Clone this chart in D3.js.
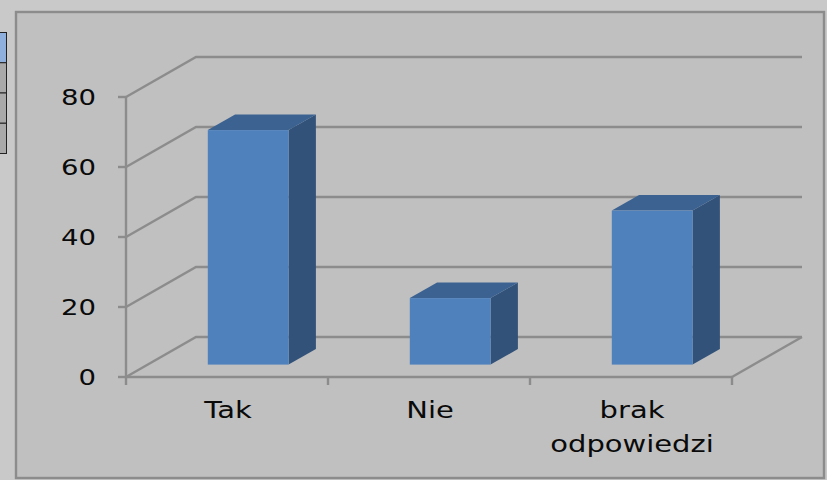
<!DOCTYPE html>
<html><head><meta charset="utf-8">
<script src="https://cdn.jsdelivr.net/npm/d3@7/dist/d3.min.js"></script>
<style>html,body{margin:0;padding:0;background:#c9c9c9;overflow:hidden}svg{display:block}text{font-family:"DejaVu Sans";fill:#0a0a0a}</style>
</head><body><svg id="c" width="827" height="480"></svg>
<script>
const categories = ["Tak", "Nie", "brak odpowiedzi"];
const labelLines = [["Tak"], ["Nie"], ["brak", "odpowiedzi"]];
const values = [67, 19, 44];
const yTicks = [0, 20, 40, 60, 80];
const legendRowFills = ["#8fb0dc", "#a9a9a9", "#a9a9a9", "#a9a9a9"];

const svg = d3.select("#c");
const depth = {dx: 70, dy: -40};
const barDepth = {f0: 0.31, f1: 0.70};
const y = d3.scaleLinear().domain([0, 80]).range([377, 97]);
const x = d3.scaleBand().domain(categories).range([126, 732]);
const barW = x.bandwidth() * 0.4;
const grey = "#8c8c8c";

// frame
svg.append("rect").attr("x", 16).attr("y", 12).attr("width", 808).attr("height", 466)
  .attr("fill", "#c0c0c0").attr("stroke", grey).attr("stroke-width", 2.4);

// stray table fragment at the left
const rows = d3.scaleBand().domain(d3.range(legendRowFills.length)).range([32.5, 153.5]);
svg.selectAll("rect.row").data(legendRowFills).join("rect").attr("class", "row")
  .attr("x", -2).attr("y", (d, i) => rows(i)).attr("width", 8.5).attr("height", rows.bandwidth())
  .attr("fill", d => d).attr("stroke", "#222").attr("stroke-width", 1);

// gridlines on back wall and side wall
const g = svg.append("g").attr("fill", "none").attr("stroke", grey).attr("stroke-width", 2.4);
yTicks.forEach(t => {
  g.append("path").attr("d", d3.line()([
    [x.range()[0], y(t)], [x.range()[0] + depth.dx, y(t) + depth.dy], [x.range()[1] + depth.dx, y(t) + depth.dy]
  ]));
  g.append("line").attr("x1", x.range()[0] - 8).attr("x2", x.range()[0]).attr("y1", y(t)).attr("y2", y(t));
});
// axes and floor
g.append("line").attr("x1", x.range()[0]).attr("x2", x.range()[0]).attr("y1", y(80)).attr("y2", y(0) + 8);
g.append("line").attr("x1", x.range()[0]).attr("x2", x.range()[1]).attr("y1", y(0)).attr("y2", y(0));
g.append("line").attr("x1", x.range()[1]).attr("x2", x.range()[1] + depth.dx).attr("y1", y(0)).attr("y2", y(0) + depth.dy);
[...categories.map(c => x(c) + x.bandwidth())].forEach(px => {
  g.append("line").attr("x1", px).attr("x2", px).attr("y1", y(0)).attr("y2", y(0) + 8);
});

// bars
const pts = a => a.map(p => p.join(",")).join(" ");
const off = f => [depth.dx * f, depth.dy * f];
const b = svg.selectAll("g.bar").data(categories.map((c, i) => ({c, v: values[i]}))).join("g").attr("class", "bar");
b.each(function (d) {
  const s = d3.select(this);
  const [ax, ay] = off(barDepth.f0), [bx, by] = off(barDepth.f1);
  const l = x(d.c) + (x.bandwidth() - barW) / 2 + ax - 0.5, r = l + barW;
  const top = y(d.v) + ay, bot = y(0) + ay;
  const ex = bx - ax, ey = by - ay;
  s.append("polygon").attr("points", pts([[r, top], [r + ex, top + ey], [r + ex, bot + ey], [r, bot]])).attr("fill", "#325279");
  s.append("polygon").attr("points", pts([[l, top], [l + ex, top + ey], [r + ex, top + ey], [r, top]])).attr("fill", "#3b6291");
  s.append("rect").attr("x", l).attr("y", top).attr("width", barW).attr("height", bot - top).attr("fill", "#4f81bd");
});

// tick labels
svg.selectAll("text.y").data(yTicks).join("text").attr("class", "y")
  .attr("text-anchor", "end").attr("font-size", 22)
  .attr("transform", t => `translate(96,${y(t) + 8}) scale(1.25,1)`).text(t => t);
labelLines.forEach((lines, i) => {
  lines.forEach((ln, j) => {
    svg.append("text").attr("text-anchor", "middle").attr("font-size", 23)
      .attr("transform", `translate(${x(categories[i]) + x.bandwidth() / 2 + 1},${418 + j * 33.5}) scale(1.26,1)`).text(ln);
  });
});
</script></body></html>
